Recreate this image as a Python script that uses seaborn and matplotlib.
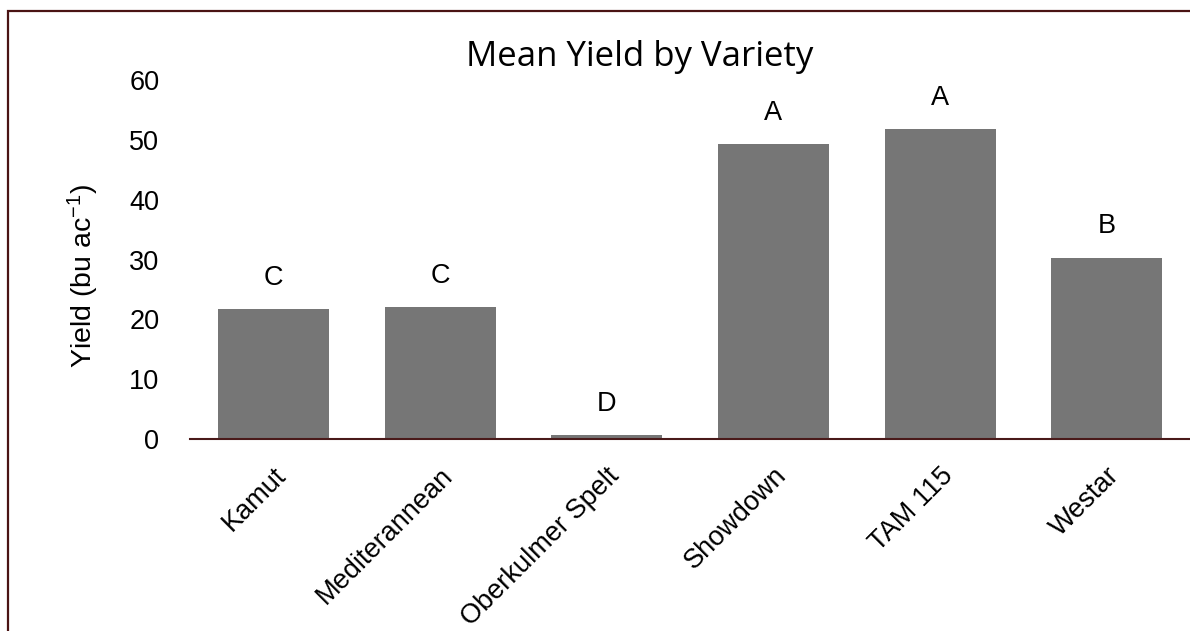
import seaborn as sns
import pandas as pd
import matplotlib.pyplot as plt
from matplotlib.patches import Rectangle

varieties = ["Kamut", "Mediterannean", "Oberkulmer Spelt", "Showdown", "TAM 115", "Westar"]
mean_yield = [21.7, 22.1, 0.7, 49.3, 51.8, 30.3]
letters = ["C", "C", "D", "A", "A", "B"]
yticks = [0, 10, 20, 30, 40, 50, 60]

df = pd.DataFrame({"Variety": varieties, "Yield": mean_yield})

sns.set_theme(style="white")
plt.rcParams["font.family"] = ["Liberation Sans", "DejaVu Sans"]
plt.rcParams["mathtext.default"] = "regular"
plt.rcParams["text.color"] = "black"
plt.rcParams["xtick.color"] = "black"
plt.rcParams["ytick.color"] = "black"

fig = plt.figure(figsize=(11.9, 6.31), dpi=100)
ax = fig.add_axes([190 / 1190, 1 - 439 / 631, 1000 / 1190, (439 - 80) / 631])

sns.barplot(data=df, x="Variety", y="Yield", ax=ax, color="#767676",
            width=0.666, errorbar=None, saturation=1, edgecolor="none")

ax.set_xlim(-0.5, 5.5)
ax.set_ylim(0, 60)
ax.set_yticks(yticks)
ax.set_yticklabels([str(t) for t in yticks], fontsize=19.5)
ax.tick_params(axis="y", length=0, pad=22)
ax.tick_params(axis="x", length=0, pad=17)
ax.set_xticks(range(len(varieties)))
ax.set_xticklabels(varieties, rotation=45, ha="right", va="top",
                   rotation_mode="anchor", fontsize=19.5)

for s in ["top", "right", "left"]:
    ax.spines[s].set_visible(False)
ax.spines["bottom"].set_color("#4a1a1a")
ax.spines["bottom"].set_linewidth(1.5)

ax.set_xlabel("")
ax.set_ylabel("")

for i, (v, l) in enumerate(zip(mean_yield, letters)):
    ax.annotate(l, (i, v), xytext=(0, 22.5), textcoords="offset points",
                ha="center", va="center", fontsize=19.5, color="black")

fig.text(83 / 1190, 1 - 276 / 631, "Yield (bu ac$^{-1}$)", rotation=90,
         ha="center", va="center", fontsize=20.5)
fig.text(640 / 1190, 1 - 57 / 631, "Mean Yield by Variety", ha="center", va="center",
         fontsize=25, family=["Open Sans", "DejaVu Sans"])

border = Rectangle((8 / 1190, -0.2), 1.2, 0.2 + 1 - 11 / 631,
                   transform=fig.transFigure, fill=False,
                   edgecolor="#4a1414", linewidth=1.6)
fig.patches.append(border)

fig.savefig("out.png", dpi=100)
